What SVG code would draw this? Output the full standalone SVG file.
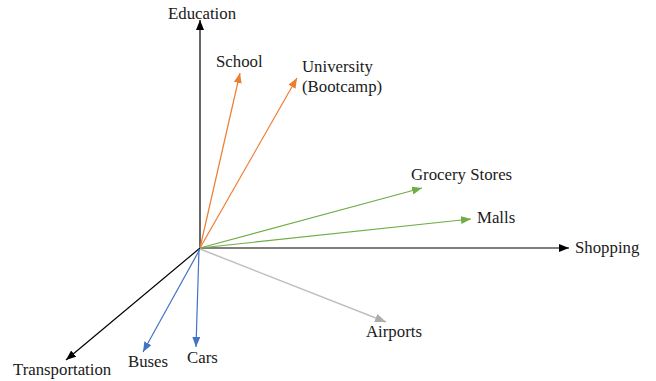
<svg xmlns="http://www.w3.org/2000/svg" width="656" height="381" viewBox="0 0 656 381">
  <style>
    text { font-family: "Liberation Serif", "Times New Roman", serif; font-size: 16.8px; fill: #1a1a1a; }
    .axis { stroke: #000; stroke-width: 1.2; fill: none; }
    .edu { stroke: #ED7D31; stroke-width: 1.2; fill: none; }
    .shop { stroke: #70AD47; stroke-width: 1.2; fill: none; }
    .trans { stroke: #4472C4; stroke-width: 1.2; fill: none; }
    .air { stroke: #BFBFBF; stroke-width: 1.5; fill: none; }
  </style>
  <defs>
    <marker id="arrBlack" viewBox="0 0 10 8" refX="10" refY="4" markerWidth="10" markerHeight="8" markerUnits="userSpaceOnUse" orient="auto">
      <path d="M0,0 L10,4 L0,8 Z" fill="#000"/>
    </marker>
    <marker id="arrOrange" viewBox="0 0 10 8" refX="10" refY="4" markerWidth="10" markerHeight="8" markerUnits="userSpaceOnUse" orient="auto">
      <path d="M0,0 L10,4 L0,8 Z" fill="#ED7D31"/>
    </marker>
    <marker id="arrGreen" viewBox="0 0 10 8" refX="10" refY="4" markerWidth="10" markerHeight="8" markerUnits="userSpaceOnUse" orient="auto">
      <path d="M0,0 L10,4 L0,8 Z" fill="#70AD47"/>
    </marker>
    <marker id="arrBlue" viewBox="0 0 10 8" refX="10" refY="4" markerWidth="10" markerHeight="8" markerUnits="userSpaceOnUse" orient="auto">
      <path d="M0,0 L10,4 L0,8 Z" fill="#4472C4"/>
    </marker>
    <marker id="arrGray" viewBox="0 0 10 8" refX="10" refY="4" markerWidth="11" markerHeight="9" markerUnits="userSpaceOnUse" orient="auto">
      <path d="M0,0 L10,4 L0,8 Z" fill="#ADADAD"/>
    </marker>
  </defs>

  <!-- vectors radiating from the origin -->
  <g id="connectors">
    <line class="axis" x1="200" y1="248" x2="200" y2="20" marker-end="url(#arrBlack)"/>
    <line class="axis" x1="200" y1="248" x2="569" y2="248" marker-end="url(#arrBlack)"/>
    <line class="axis" x1="200" y1="248" x2="66" y2="360" marker-end="url(#arrBlack)"/>
    <line class="edu" x1="200" y1="248" x2="240" y2="73" marker-end="url(#arrOrange)"/>
    <line class="edu" x1="200" y1="248" x2="297" y2="78" marker-end="url(#arrOrange)"/>
    <line class="shop" x1="200" y1="248" x2="422" y2="188" marker-end="url(#arrGreen)"/>
    <line class="shop" x1="200" y1="248" x2="471" y2="219" marker-end="url(#arrGreen)"/>
    <line class="trans" x1="200" y1="249" x2="143" y2="352" marker-end="url(#arrBlue)"/>
    <line class="trans" x1="199" y1="249" x2="196" y2="347" marker-end="url(#arrBlue)"/>
    <line class="air" x1="200" y1="249" x2="386" y2="322" marker-end="url(#arrGray)"/>
  </g>

  <g id="education"><text x="168" y="19">Education</text></g>
  <g id="school"><text x="216" y="67">School</text></g>
  <g id="university">
    <text x="302" y="72">University</text>
    <text x="302" y="92">(Bootcamp)</text>
  </g>
  <g id="grocery-stores"><text x="411" y="180">Grocery Stores</text></g>
  <g id="malls"><text x="477" y="223">Malls</text></g>
  <g id="shopping"><text x="575" y="253">Shopping</text></g>
  <g id="airports"><text x="366" y="337">Airports</text></g>
  <g id="transportation"><text x="13" y="375">Transportation</text></g>
  <g id="buses"><text x="128" y="367">Buses</text></g>
  <g id="cars"><text x="187" y="363">Cars</text></g>
</svg>
